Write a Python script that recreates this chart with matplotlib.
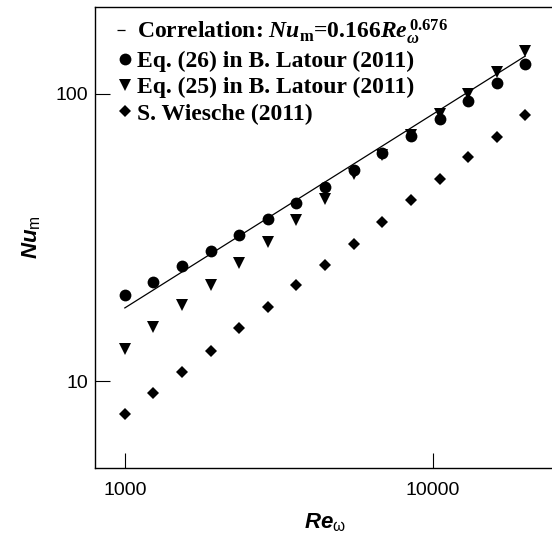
import matplotlib
matplotlib.use("Agg")
import matplotlib.pyplot as plt
from matplotlib.lines import Line2D

# Reynolds numbers of the points
re_w = [1000, 1239, 1534, 1900, 2354, 2916, 3612, 4474, 5542, 6866, 8505, 10536, 13052, 16168, 20000]

# Eq. (26) in B. Latour (2011)
nu_eq26 = [19.9, 22.2, 25.1, 28.3, 32.2, 36.8, 41.7, 47.5, 54.3, 62.2, 71.5, 81.8, 94.6, 109.0, 126.8]
# Eq. (25) in B. Latour (2011)
nu_eq25 = [13.0, 15.4, 18.4, 21.7, 25.8, 30.5, 36.3, 43.0, 52.4, 61.0, 71.8, 84.7, 100.0, 119.0, 141.0]
# S. Wiesche (2011)
nu_wiesche = [7.73, 9.1, 10.8, 12.8, 15.3, 18.2, 21.6, 25.4, 30.1, 35.8, 42.6, 50.5, 60.1, 70.8, 84.2]

# correlation line end points
line_re = [1000, 20000]
line_nu = [18.0, 135.0]

labels = [r'Correlation: $Nu_{\mathrm{m}}$=0.166$Re_{\omega}^{\,0.676}$',
          'Eq. (26) in B. Latour (2011)',
          'Eq. (25) in B. Latour (2011)',
          'S. Wiesche (2011)']

plt.rcParams['mathtext.fontset'] = 'custom'
plt.rcParams['mathtext.rm'] = 'Liberation Serif:bold'
plt.rcParams['mathtext.it'] = 'Liberation Serif:bold:italic'
plt.rcParams['mathtext.bf'] = 'Liberation Serif:bold'
plt.rcParams['mathtext.sf'] = 'Liberation Sans:bold:italic'
plt.rcParams['mathtext.tt'] = 'Liberation Sans'
plt.rcParams['lines.scale_dashes'] = False

fig = plt.figure(figsize=(5.52, 5.34), dpi=100)
ax = fig.add_axes([95 / 552, 66 / 534, 460 / 552, 461 / 534])

ax.plot(line_re, line_nu, '-', color='black', lw=0.9)
ax.plot(re_w, nu_eq26, 'o', color='black', ms=8.5, mew=0)
ax.plot(re_w, nu_eq25, 'v', color='black', ms=8, mew=0)
ax.plot(re_w, nu_wiesche, 'D', color='black', ms=6.5, mew=0)

ax.set_xscale('log')
ax.set_yscale('log')
ax.set_xlim(800, 25000)
ax.set_ylim(5, 200)

ax.set_xticks([1000, 10000])
ax.set_xticklabels(['1000', '10000'])
ax.set_yticks([10, 100])
ax.set_yticklabels(['10', '100'])
ax.minorticks_off()
ax.tick_params(direction='in', length=11, width=0.8, labelsize=14, colors='black')
ax.tick_params(axis='x', pad=10)
ax.tick_params(axis='y', pad=5)
for lab in ax.get_xticklabels() + ax.get_yticklabels():
    lab.set_family('Liberation Sans')

for s in ax.spines.values():
    s.set_linewidth(1.0)

ax.set_xlabel(r'$\mathsf{Re}_{\mathtt{\omega}}$', fontsize=16, labelpad=9)
ax.set_ylabel(r'$\mathsf{Nu}_{\mathtt{m}}$', fontsize=16, labelpad=10)

# legend handles: short dash for the correlation, then the markers
handles = [Line2D([], [], color='black', lw=0.9, linestyle=(0, (5.8, 20.0))),
           Line2D([], [], color='black', marker='o', ms=8.5, mew=0, ls='none'),
           Line2D([], [], color='black', marker='v', ms=8, mew=0, ls='none'),
           Line2D([], [], color='black', marker='D', ms=6.5, mew=0, ls='none')]
leg = ax.legend(handles, labels, loc='upper left', bbox_to_anchor=(0.048, 0.978), frameon=False,
                prop={'family': 'Liberation Serif', 'weight': 'bold', 'size': 17},
                handlelength=0.635, handletextpad=0.2, labelspacing=0.2,
                borderpad=0, borderaxespad=0, numpoints=1)

fig.savefig('out.png', dpi=100)
